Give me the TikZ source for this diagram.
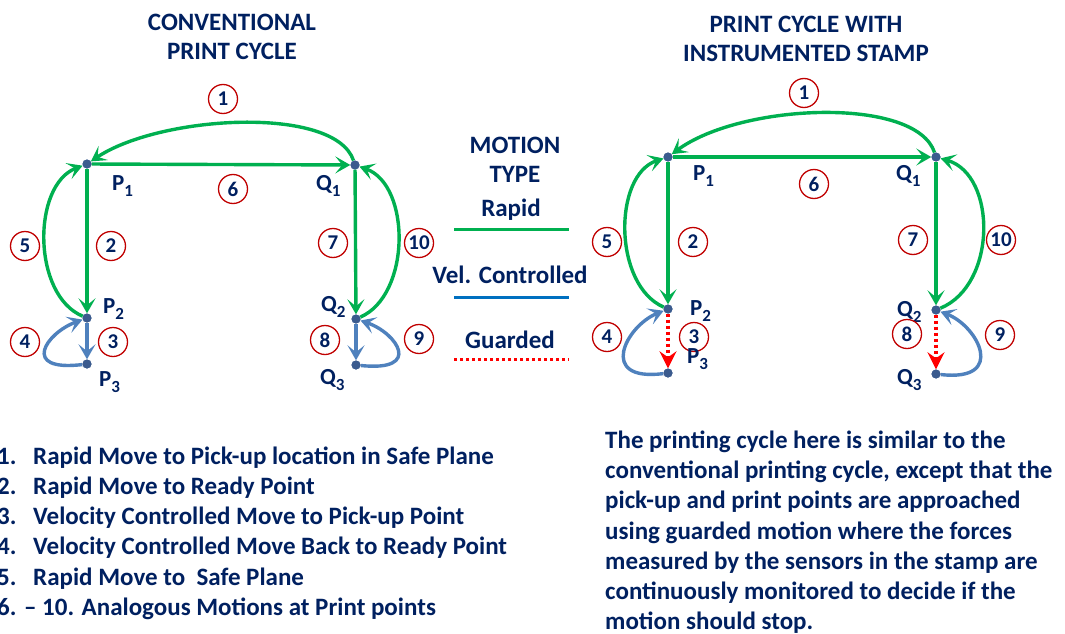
\documentclass[tikz,border=0pt]{standalone}
\usepackage{fontspec}
\setmainfont{Carlito}
\usetikzlibrary{arrows.meta}
\definecolor{navy}{HTML}{002060}
\definecolor{rgreen}{HTML}{00B050}
\definecolor{vblue}{HTML}{4F81BD}
\definecolor{lblue}{HTML}{0070C0}
\definecolor{gred}{HTML}{FF0000}
\definecolor{cred}{HTML}{C00000}
\definecolor{dotc}{HTML}{3B5B8E}
\newcommand\psub[2]{#1\raisebox{-0.3em}{\fontsize{17}{17}\selectfont #2}}
\begin{document}
\begin{tikzpicture}[x=1pt,y=-1pt,
  every node/.style={font=\bfseries, text=navy},
  pt/.style={circle, fill=dotc, inner sep=0pt, minimum size=9pt},
  num/.style={circle, draw=cred, line width=1.3pt, minimum size=29pt, inner sep=0pt, font=\bfseries\fontsize{21}{21}\selectfont},
  tip/.style={-{Stealth[length=15pt,width=17pt,inset=7pt]}},
  rapid/.style={draw=rgreen, line width=3.4pt, tip},
  vel/.style={draw=vblue, line width=3.4pt, tip},
  guard/.style={draw=gred, line width=3.2pt, dash pattern=on 3pt off 3pt, -{Stealth[length=17pt,width=17pt,inset=6pt,fill=gred]}},
  lbl/.style={font=\bfseries\fontsize{23}{23}\selectfont, anchor=base west, inner sep=0pt},
  big/.style={font=\bfseries\fontsize{25}{29.5}\selectfont, align=center},
  txt/.style={font=\bfseries\fontsize{25}{25}\selectfont, anchor=base west, inner sep=0pt},
]
\useasboundingbox (0,0) rectangle (1065,634);

% titles
\node[big] (t1) at (232,37) {CONVENTIONAL\\PRINT CYCLE};
\node[big] (t2) at (806,39) {PRINT CYCLE WITH\\INSTRUMENTED STAMP};

% ---------- left diagram ----------
\node[pt] (lP1) at (87,164) {};
\node[pt] (lQ1) at (355,165) {};
\node[pt] (lP2) at (87,318) {};
\node[pt] (lP3) at (87,364) {};
\node[pt] (lQ2) at (356,319) {};
\node[pt] (lQ3) at (356,365) {};

\draw[rapid] (lQ1) .. controls (335,105) and (160,115) .. (lP1);
\draw[rapid] (lP1) -- (lQ1);
\draw[rapid] (lP1) -- (lP2);
\draw[rapid] (lQ1) -- (lQ2);
\draw[rapid] (lP2) .. controls (32,295) and (32,185) .. (lP1);
\draw[rapid] (lQ2) .. controls (411,295) and (411,185) .. (lQ1);
\draw[vel] (lP2) -- (lP3);
\draw[vel] (lQ2) -- (lQ3);
\draw[vel] (lP3) .. controls (20,372) and (46,333) .. (lP2);
\draw[vel] (lQ3) .. controls (423,372) and (397,333) .. (lQ2);

\node[pt] at (lP1) {};
\node[pt] at (lQ1) {};
\node[pt] at (lP2) {};
\node[pt] at (lP3) {};
\node[pt] at (lQ2) {};
\node[pt] at (lQ3) {};

\node[lbl] (lP1l) at (112,190) {\psub{P}{1}};
\node[lbl] (lQ1l) at (316,190) {\psub{Q}{1}};
\node[lbl] (lP2l) at (103,313) {\psub{P}{2}};
\node[lbl] (lP3l) at (99,386) {\psub{P}{3}};
\node[lbl] (lQ2l) at (321,311) {\psub{Q}{2}};
\node[lbl] (lQ3l) at (320,384) {\psub{Q}{3}};

\node[num] (ln1) at (223,99) {1};
\node[num] (ln6) at (233,189) {6};
\node[num] (ln5) at (25,246) {5};
\node[num] (ln2) at (111,246) {2};
\node[num] (ln7) at (333,243) {7};
\node[num] (ln10) at (419,243) {10};
\node[num] (ln4) at (25,342) {4};
\node[num] (ln3) at (113,342) {3};
\node[num] (ln8) at (325,340) {8};
\node[num] (ln9) at (419,339) {9};

% ---------- legend ----------
\node[big] (mt) at (515,160) {MOTION\\TYPE};
\node[big] (lr) at (511,210) {Rapid};
\node[big] (lv) at (510,275) {Vel. Controlled};
\node[big] (lg) at (510,340) {Guarded};
\coordinate (g1) at (454,229); \coordinate (g2) at (569,229);
\coordinate (b1) at (454,297); \coordinate (b2) at (569,297);
\coordinate (r1) at (454,359); \coordinate (r2) at (569,359);
\draw[draw=rgreen, line width=3pt] (g1) -- (g2);
\draw[draw=lblue, line width=3pt] (b1) -- (b2);
\draw[draw=gred, line width=3pt, dash pattern=on 3pt off 3pt] (r1) -- (r2);

% ---------- right diagram ----------
\node[pt] (rP1) at (668,157) {};
\node[pt] (rQ1) at (936,157) {};
\node[pt] (rP2) at (668,309) {};
\node[pt] (rP3) at (668,373) {};
\node[pt] (rQ2) at (936,310) {};
\node[pt] (rQ3) at (936,374) {};

\draw[rapid] (rQ1) .. controls (916,96) and (741,103) .. (rP1);
\draw[rapid] (rP1) -- (rQ1);
\draw[rapid] (rP1) -- (rP2);
\draw[rapid] (rQ1) -- (rQ2);
\draw[rapid] (rP2) .. controls (613,285) and (613,175) .. (rP1);
\draw[rapid] (rQ2) .. controls (997,285) and (997,175) .. (rQ1);
\draw[guard] (rP2) -- (rP3);
\draw[guard] (rQ2) -- (rQ3);
\draw[vel] (rP3) .. controls (597,382) and (626,326) .. (rP2);
\draw[vel] (rQ3) .. controls (1007,382) and (978,326) .. (rQ2);

\node[pt] at (rP1) {};
\node[pt] at (rQ1) {};
\node[pt] at (rP2) {};
\node[pt] at (rP3) {};
\node[pt] at (rQ2) {};
\node[pt] at (rQ3) {};

\node[lbl] (rP1l) at (693,180) {\psub{P}{1}};
\node[lbl] (rQ1l) at (896,180) {\psub{Q}{1}};
\node[lbl] (rP2l) at (690,315) {\psub{P}{2}};
\node[lbl] (rQ2l) at (897,316) {\psub{Q}{2}};
\node[lbl] (rQ3l) at (897,384) {\psub{Q}{3}};

\node[num] (rn1) at (804,93) {1};
\node[num] (rn6) at (814,184) {6};
\node[num] (rn5) at (607,242) {5};
\node[num] (rn2) at (693,242) {2};
\node[num] (rn7) at (913,240) {7};
\node[num] (rn10) at (1001,240) {10};
\node[num] (rn4) at (607,337) {4};
\node[num] (rn3) at (694,337) {3};
\node[num] (rn8) at (907,334) {8};
\node[num] (rn9) at (1000,335) {9};
\node[lbl] (rP3l) at (687,363) {\psub{P}{3}};

% ---------- list ----------
\node[txt] (i1) at (-3,464) {1.};
\node[txt] (i1t) at (33,464) {Rapid Move to Pick-up location in Safe Plane};
\node[txt] (i2) at (-3,494) {2.};
\node[txt] (i2t) at (33,494) {Rapid Move to Ready Point};
\node[txt] (i3) at (-3,524) {3.};
\node[txt] (i3t) at (33,524) {Velocity Controlled Move to Pick-up Point};
\node[txt] (i4) at (-3,554) {4.};
\node[txt] (i4t) at (33,554) {Velocity Controlled Move Back to Ready Point};
\node[txt] (i5) at (-3,585) {5.};
\node[txt] (i5t) at (33,585) {Rapid Move to\ \ Safe Plane};
\node[txt] (i6) at (-3,615) {6. -- 10. Analogous Motions at Print points};

% ---------- paragraph ----------
\node[txt] (p1) at (605,448) {The printing cycle here is similar to the};
\node[txt] (p2) at (605,478) {conventional printing cycle, except that the};
\node[txt] (p3) at (605,508) {pick-up and print points are approached};
\node[txt] (p4) at (605,539) {using guarded motion where the forces};
\node[txt] (p5) at (605,569) {measured by the sensors in the stamp are};
\node[txt] (p6) at (605,599) {continuously monitored to decide if the};
\node[txt] (p7) at (605,629) {motion should stop.};
\end{tikzpicture}
\end{document}
